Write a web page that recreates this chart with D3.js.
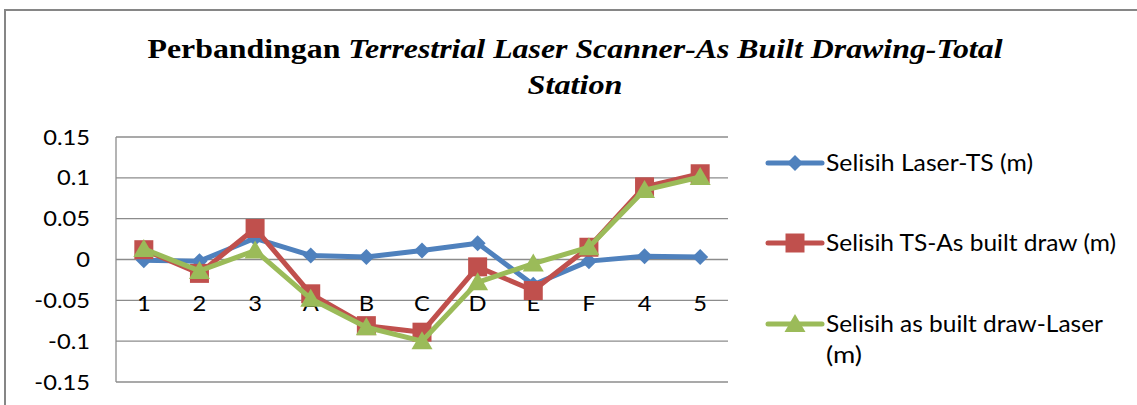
<!DOCTYPE html>
<html>
<head>
<meta charset="utf-8">
<script src="https://cdn.jsdelivr.net/npm/d3@7"></script>
<style>
  body { margin: 0; background: #fff; }
  svg { display: block; }
</style>
</head>
<body>
<svg id="chart" width="1137" height="405"></svg>
<script>
// data
var categories = ["1", "2", "3", "A", "B", "C", "D", "E", "F", "4", "5"];
var laserTS    = [-0.001, -0.002, 0.026, 0.005, 0.003, 0.011, 0.020, -0.031, -0.002, 0.004, 0.003];
var tsAsBuilt  = [0.012, -0.017, 0.038, -0.042, -0.081, -0.089, -0.009, -0.038, 0.015, 0.089, 0.105];
var asBuiltLaser = [0.013, -0.014, 0.011, -0.048, -0.083, -0.100, -0.028, -0.005, 0.015, 0.085, 0.101];
var yTicks = [0.15, 0.1, 0.05, 0, -0.05, -0.1, -0.15];
var seriesNames = ["Selisih Laser-TS (m)", "Selisih TS-As built draw (m)", "Selisih as built draw-Laser (m)"];

var series = [
  { name: seriesNames[0], values: laserTS, color: "#4F81BD", marker: "diamond" },
  { name: seriesNames[1], values: tsAsBuilt, color: "#C0504D", marker: "square" },
  { name: seriesNames[2], values: asBuiltLaser, color: "#9BBB59", marker: "triangle" }
];

var svg = d3.select("#chart");
var font = "Lato, 'Open Sans', sans-serif";
var stretch = 1.13; // picture text looks a bit wide, stretch sideways

// outer chart border (top + left visible)
svg.append("path")
  .attr("d", "M5,1000 L5,10 L1200,10")
  .attr("fill", "none")
  .attr("stroke", "#868686")
  .attr("stroke-width", 2);

// title
var title = svg.append("text")
  .attr("x", 575).attr("y", 58)
  .attr("text-anchor", "middle")
  .attr("textLength", 855)
  .attr("lengthAdjust", "spacingAndGlyphs")
  .style("font-family", "'Liberation Serif', 'Times New Roman', serif")
  .style("font-size", "28px")
  .style("font-weight", "bold");
title.append("tspan").text("Perbandingan ");
title.append("tspan").style("font-style", "italic").text("Terrestrial Laser Scanner-As Built Drawing-Total");
svg.append("text")
  .attr("x", 575).attr("y", 94)
  .attr("text-anchor", "middle")
  .attr("textLength", 95)
  .attr("lengthAdjust", "spacingAndGlyphs")
  .style("font-family", "'Liberation Serif', 'Times New Roman', serif")
  .style("font-size", "28px")
  .style("font-weight", "bold")
  .style("font-style", "italic")
  .text("Station");

var x = d3.scalePoint().domain(categories).range([116, 728]).padding(0.5);
var y = d3.scaleLinear().domain([-0.15, 0.15]).range([382, 137]);

// gridlines
svg.append("g").selectAll("line")
  .data(yTicks)
  .enter().append("line")
  .attr("x1", 116).attr("x2", 728)
  .attr("y1", function (d) { return y(d); })
  .attr("y2", function (d) { return y(d); })
  .attr("stroke", "#8c8c8c")
  .attr("stroke-width", 1.3);

// left axis line
svg.append("line")
  .attr("x1", 116).attr("x2", 116)
  .attr("y1", y(0.15)).attr("y2", y(-0.15))
  .attr("stroke", "#8c8c8c")
  .attr("stroke-width", 1.3);

// y tick labels
svg.append("g").selectAll("text")
  .data(yTicks)
  .enter().append("text")
  .attr("transform", function (d) { return "translate(90," + y(d) + ") scale(" + stretch + ",1)"; })
  .attr("dy", "0.36em")
  .attr("text-anchor", "end")
  .style("font-family", font)
  .style("font-size", "21px")
  .text(function (d) { return String(d); });

// category labels
svg.append("g").selectAll("text")
  .data(categories)
  .enter().append("text")
  .attr("transform", function (d) { return "translate(" + x(d) + ",303) scale(" + stretch + ",1)"; })
  .attr("dy", "0.36em")
  .attr("text-anchor", "middle")
  .style("font-family", font)
  .style("font-size", "21px")
  .text(function (d) { return d; });

function markerPath(type) {
  if (type === "diamond") return "M0,-8 L8,0 L0,8 L-8,0 Z";
  if (type === "square") return "M-9.5,-9.5 L9.5,-9.5 L9.5,9.5 L-9.5,9.5 Z";
  return "M0,-10 L10.5,8 L-10.5,8 Z";
}

var line = d3.line()
  .x(function (d, i) { return x(categories[i]); })
  .y(function (d) { return y(d); });

series.forEach(function (s) {
  var g = svg.append("g");
  g.append("path")
    .datum(s.values)
    .attr("d", line)
    .attr("fill", "none")
    .attr("stroke", s.color)
    .attr("stroke-width", 5)
    .attr("stroke-linejoin", "round");
  g.selectAll(".pt")
    .data(s.values)
    .enter().append("path")
    .attr("class", "pt")
    .attr("transform", function (d, i) { return "translate(" + x(categories[i]) + "," + y(d) + ")"; })
    .attr("d", markerPath(s.marker))
    .attr("fill", s.color);
});

// legend
var legendY = [163, 243, 324];
var legendLen = [207, 290, 277];
series.forEach(function (s, i) {
  var g = svg.append("g").attr("transform", "translate(0," + legendY[i] + ")");
  g.append("line")
    .attr("x1", 768).attr("x2", 822)
    .attr("stroke", s.color)
    .attr("stroke-width", 5)
    .attr("stroke-linecap", "round");
  g.append("path")
    .attr("transform", "translate(795,0)")
    .attr("d", markerPath(s.marker))
    .attr("fill", s.color);
  var label = i === 2 ? "Selisih as built draw-Laser" : s.name;
  g.append("text")
    .attr("x", 826)
    .attr("dy", "0.36em")
    .attr("textLength", legendLen[i])
    .attr("lengthAdjust", "spacingAndGlyphs")
    .style("font-family", font)
    .style("font-size", "23px")
    .text(label);
  if (i === 2) {
    g.append("text")
      .attr("x", 826)
      .attr("y", 31)
      .attr("dy", "0.36em")
      .attr("textLength", 36)
      .attr("lengthAdjust", "spacingAndGlyphs")
      .style("font-family", font)
      .style("font-size", "23px")
      .text("(m)");
  }
});
</script>
</body>
</html>
